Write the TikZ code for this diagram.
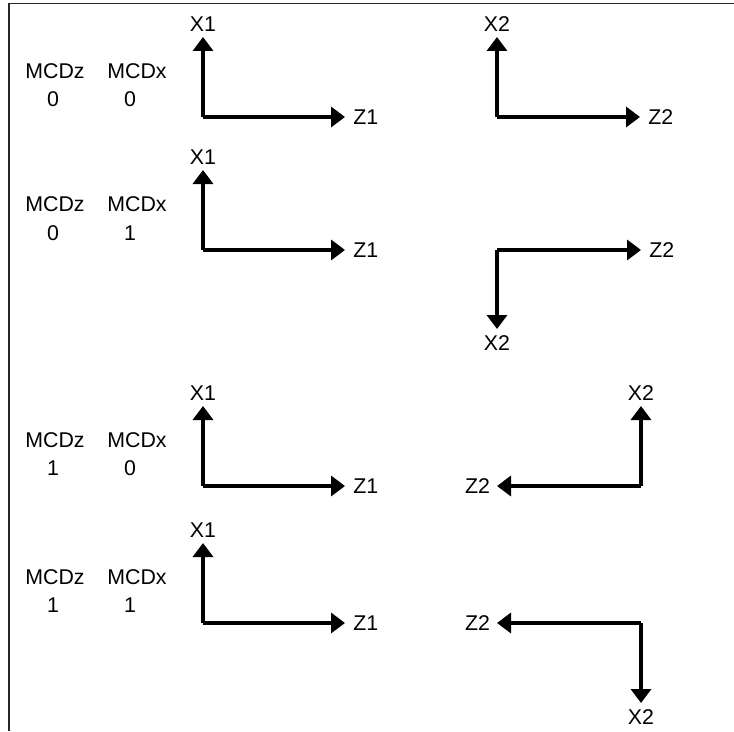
\documentclass[tikz,border=0pt]{standalone}
\usepackage{fontspec}
\setmainfont{Liberation Sans}
\usetikzlibrary{positioning,arrows.meta}

\tikzset{
	asse/.style={line width=3pt, -{Triangle[length=10.5pt,width=15pt]}},
	etich/.style={font=\fontsize{16}{19}\selectfont, inner sep=1pt},
}

\begin{document}
\begin{tikzpicture}[x=0.75pt,y=-0.75pt]
				\useasboundingbox (0,0) rectangle (734,731);
				% Cornice
				\draw[line width=1.4pt, black!85] (9,731) -- (9,3.5) -- (734,3.5);
				
				% Riga 1: MCDz 0, MCDx 0
				\node[etich] (mz1) at (55,71) {MCDz};
				\node[etich] (mx1) at (137,71) {MCDx};
				\node[etich] (vz1) at (53,99) {0};
				\node[etich] (vx1) at (130,99) {0};
				\coordinate (oa1) at (203,117);
				\coordinate (xa1) at (203,37);
				\coordinate (za1) at (345,117);
				\draw[asse] (oa1) -- (xa1);
				\draw[asse] (oa1) -- (za1);
				\node[etich, above=3pt of xa1] (lxa1) {X1};
				\node[etich, right=5pt of za1] (lza1) {Z1};
				\coordinate (ob1) at (497,117);
				\coordinate (xb1) at (497,37);
				\coordinate (zb1) at (640,117);
				\draw[asse] (ob1) -- (xb1);
				\draw[asse] (ob1) -- (zb1);
				\node[etich, above=3pt of xb1] (lxb1) {X2};
				\node[etich, right=5pt of zb1] (lzb1) {Z2};
				
				% Riga 2: MCDz 0, MCDx 1
				\node[etich] (mz2) at (55,204) {MCDz};
				\node[etich] (mx2) at (137,204) {MCDx};
				\node[etich] (vz2) at (53,233) {0};
				\node[etich] (vx2) at (130,233) {1};
				\coordinate (oa2) at (203,250);
				\coordinate (xa2) at (203,170);
				\coordinate (za2) at (345,250);
				\draw[asse] (oa2) -- (xa2);
				\draw[asse] (oa2) -- (za2);
				\node[etich, above=3pt of xa2] (lxa2) {X1};
				\node[etich, right=5pt of za2] (lza2) {Z1};
				\coordinate (ob2) at (497,250);
				\coordinate (xb2) at (497,329);
				\coordinate (zb2) at (641,250);
				\draw[asse] (ob2) -- (xb2);
				\draw[asse] (ob2) -- (zb2);
				\node[etich, below=3.5pt of xb2] (lxb2) {X2};
				\node[etich, right=5pt of zb2] (lzb2) {Z2};
				
				% Riga 3: MCDz 1, MCDx 0
				\node[etich] (mz3) at (55,440) {MCDz};
				\node[etich] (mx3) at (137,440) {MCDx};
				\node[etich] (vz3) at (53,468) {1};
				\node[etich] (vx3) at (130,468) {0};
				\coordinate (oa3) at (203,486);
				\coordinate (xa3) at (203,406);
				\coordinate (za3) at (345,486);
				\draw[asse] (oa3) -- (xa3);
				\draw[asse] (oa3) -- (za3);
				\node[etich, above=3pt of xa3] (lxa3) {X1};
				\node[etich, right=5pt of za3] (lza3) {Z1};
				\coordinate (ob3) at (641,486);
				\coordinate (xb3) at (641,406);
				\coordinate (zb3) at (497,486);
				\draw[asse] (ob3) -- (xb3);
				\draw[asse] (ob3) -- (zb3);
				\node[etich, above=3pt of xb3] (lxb3) {X2};
				\node[etich, left=4pt of zb3] (lzb3) {Z2};
				
				% Riga 4: MCDz 1, MCDx 1
				\node[etich] (mz4) at (55,577) {MCDz};
				\node[etich] (mx4) at (137,577) {MCDx};
				\node[etich] (vz4) at (53,605) {1};
				\node[etich] (vx4) at (130,605) {1};
				\coordinate (oa4) at (203,623);
				\coordinate (xa4) at (203,543);
				\coordinate (za4) at (345,623);
				\draw[asse] (oa4) -- (xa4);
				\draw[asse] (oa4) -- (za4);
				\node[etich, above=3pt of xa4] (lxa4) {X1};
				\node[etich, right=5pt of za4] (lza4) {Z1};
				\coordinate (ob4) at (641,623);
				\coordinate (xb4) at (641,703);
				\coordinate (zb4) at (497,623);
				\draw[asse] (ob4) -- (xb4);
				\draw[asse] (ob4) -- (zb4);
				\node[etich, below=3.5pt of xb4] (lxb4) {X2};
				\node[etich, left=4pt of zb4] (lzb4) {Z2};
			\end{tikzpicture}
\end{document}
